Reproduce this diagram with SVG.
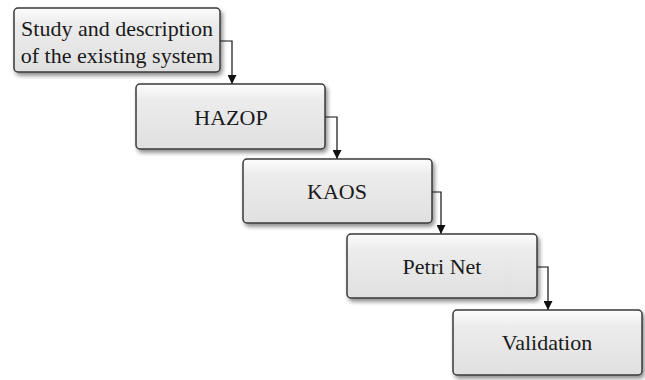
<svg xmlns="http://www.w3.org/2000/svg" width="645" height="380" viewBox="0 0 645 380">
  <defs>
    <linearGradient id="boxFill" x1="0" y1="0" x2="0" y2="1">
      <stop offset="0" stop-color="#fdfdfd"/>
      <stop offset="0.25" stop-color="#ececec"/>
      <stop offset="1" stop-color="#e0e0e0"/>
    </linearGradient>
    <filter id="shadow" x="-10%" y="-10%" width="130%" height="140%">
      <feGaussianBlur in="SourceAlpha" stdDeviation="2"/>
      <feOffset dx="2" dy="3"/>
      <feComponentTransfer><feFuncA type="linear" slope="0.45"/></feComponentTransfer>
      <feMerge><feMergeNode/><feMergeNode in="SourceGraphic"/></feMerge>
    </filter>
    <marker id="arrow" viewBox="0 0 10 10" refX="10" refY="5" markerWidth="9" markerHeight="9" markerUnits="userSpaceOnUse" orient="auto">
      <path d="M0,0 L10,5 L0,10 z" fill="#111"/>
    </marker>
  </defs>
  <style>
    .box { fill: url(#boxFill); stroke: #3a3a3a; stroke-width: 1.5; filter: url(#shadow); }
    .label { font-family: 'Liberation Serif', 'Times New Roman', serif; font-size: 22px; fill: #1a1a1a; text-anchor: middle; }
    .conn { fill: none; stroke: #111; stroke-width: 1.2; marker-end: url(#arrow); }
  </style>
  <rect width="645" height="380" fill="#ffffff"/>

  <!-- elbow connectors between consecutive steps -->
  <g id="connectors">
    <path class="conn" d="M220,41 H232 V84"/>
    <path class="conn" d="M325,117 H337 V159"/>
    <path class="conn" d="M432,192 H441 V234"/>
    <path class="conn" d="M537,267 H548 V310"/>
  </g>

  <g id="study">
    <rect class="box" x="14" y="8" width="206" height="64" rx="4"/>
    <text class="label" x="117" y="36">Study and description</text>
    <text class="label" x="117" y="63">of the existing system</text>
  </g>
  <g id="hazop">
    <rect class="box" x="136" y="84" width="189" height="65" rx="4"/>
    <text class="label" x="231" y="125">HAZOP</text>
  </g>
  <g id="kaos">
    <rect class="box" x="243" y="159" width="189" height="64" rx="4"/>
    <text class="label" x="337" y="199">KAOS</text>
  </g>
  <g id="petri-net">
    <rect class="box" x="347" y="234" width="190" height="64" rx="4"/>
    <text class="label" x="442" y="274">Petri Net</text>
  </g>
  <g id="validation">
    <rect class="box" x="453" y="310" width="189" height="65" rx="4"/>
    <text class="label" x="547" y="350">Validation</text>
  </g>
</svg>
